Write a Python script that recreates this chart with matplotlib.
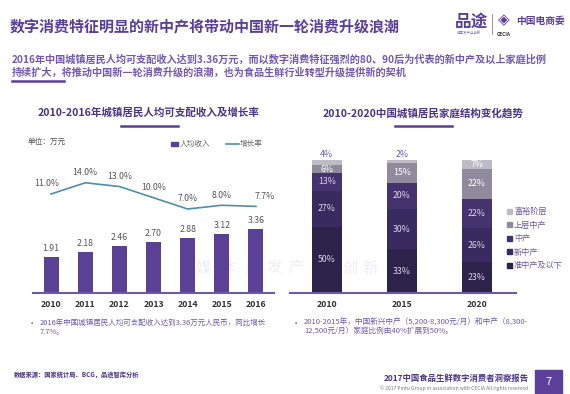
import numpy as np
import matplotlib
matplotlib.use('Agg')
import matplotlib.pyplot as plt
from matplotlib.patches import Patch, Rectangle
from matplotlib.lines import Line2D

plt.rcParams['font.family'] = ['Noto Sans CJK SC', 'DejaVu Sans']

# ---- dados ----
anos = ['2010', '2011', '2012', '2013', '2014', '2015', '2016']
renda = [1.91, 2.18, 2.46, 2.70, 2.88, 3.12, 3.36]
crescimento = [11.0, 14.0, 13.0, 10.0, 7.0, 8.0, 7.7]

anos_fam = ['2010', '2015', '2020']
camadas = ['准中产及以下', '新中产', '中产', '上层中产', '富裕阶层']
准中产 = [50, 33, 23]
新中产 = [27, 30, 26]
中产 = [13, 20, 22]
上层中产 = [6, 15, 22]
富裕 = [4, 2, 7]

W, H = 570, 394
roxo = '#5a3e98'
roxo_txt = '#6b5aa8'

fig = plt.figure(figsize=(W / 100, H / 100), dpi=100)
fig.patch.set_facecolor('white')


def px(x, y):
    return x / W, 1 - y / H


def texto(x, y, s, **kw):
    fx, fy = px(x, y)
    return fig.text(fx, fy, s, **kw)


def linha(x0, x1, y0, y1, cor, lw):
    fig.add_artist(Line2D([x0 / W, x1 / W], [1 - y0 / H, 1 - y1 / H], color=cor, lw=lw))


# marca d'agua (bem clara, atras de tudo)
for cx, ch in zip([203, 228, 252, 274, 296, 350, 370], '媒体源发产创新'):
    texto(cx, 268, ch, fontsize=11, color='#efedf6', va='center', ha='center', zorder=-5)

# cabecalho
texto(10, 27, '数字消费特征明显的新中产将带动中国新一轮消费升级浪潮', fontsize=10.8,
      fontweight='bold', color=roxo, va='center')
texto(12, 59.5, '2016年中国城镇居民人均可支配收入达到3.36万元，而以数字消费特征强烈的80、90后为代表的新中产及以上家庭比例',
      fontsize=7.3, fontweight='bold', color='#7457b0', va='center')
texto(12, 72.5, '持续扩大，将推动中国新一轮消费升级的浪潮，也为食品生鲜行业转型升级提供新的契机',
      fontsize=7.3, fontweight='bold', color='#7457b0', va='center')
linha(12, 64, 81, 81, roxo, 1.8)

# logos (aproximado)
texto(455, 22, '品途', fontsize=12, fontweight='bold', style='italic', color='#5b3f9c', va='center')
texto(457, 33, '媒体发产业创新', fontsize=2.5, color='#7a6aa8', va='center')
linha(491.5, 491.5, 14, 34, '#8a7ab8', 0.6)
texto(504, 20, '◈', fontsize=11, color='#5b3f9c', va='center', ha='center', family='DejaVu Sans')
texto(504, 34, 'CECIA', fontsize=3.5, fontweight='bold', color='#333333', va='center', ha='center')
texto(516, 21, '中国电商委', fontsize=7, fontweight='bold', color='#5b3f9c', va='center')

# titulos dos graficos
texto(149, 113, '2010-2016年城镇居民人均可支配收入及增长率', fontsize=7.6, fontweight='bold',
      color='#4a3585', ha='center', va='center')
linha(121, 178, 126, 126, roxo, 1.8)
texto(423, 113, '2010-2020中国城镇居民家庭结构变化趋势', fontsize=7.6, fontweight='bold',
      color='#4a3585', ha='center', va='center')
linha(395, 452, 126, 126, roxo, 1.8)

# ---- grafico esquerdo ----
ax = fig.add_axes([33 / W, (H - 293) / H, 241 / W, 133 / H])
x = np.arange(len(anos))
ax.bar(x, renda, width=0.44, color='#5b4196', zorder=2)
for xi, v in zip(x, renda):
    ax.text(xi, v + 0.2, f'{v:.2f}', ha='center', va='bottom', fontsize=6.3, color='#555555')
ax.set_xlim(-0.53, 6.53)
ax.set_ylim(0, 7.0)
ax.set_yticks([])
ax.set_xticks(x)
ax.set_xticklabels(anos, fontsize=6.3, fontweight='bold', color='#333333')
ax.tick_params(axis='x', length=0, pad=5)
for s in ['top', 'right', 'left']:
    ax.spines[s].set_visible(False)
ax.spines['bottom'].set_color('#6b5aa6')
ax.spines['bottom'].set_linewidth(1.5)
ax.patch.set_alpha(0)

ax2 = ax.twinx()
ax2.plot(x, crescimento, color='#4d8fa6', lw=1.2)
ax2.set_ylim(-15.4, 20.07)
ax2.axis('off')
for xi, v in zip(x, crescimento):
    dx = 6 if xi == len(x) - 1 else (-3 if xi == 0 else 0)
    ax2.annotate(f'{v:.1f}%', (xi, v), xytext=(dx, 4), textcoords='offset points',
                 ha='center', va='bottom', fontsize=6.3, color='#555555')

texto(28, 142, '单位：万元', fontsize=5.5, color='#555555', va='center')
fig.add_artist(Rectangle((171 / W, 1 - 146 / H), 7 / W, 4 / H, color='#5b4196'))
texto(180, 144, '人均收入', fontsize=5.5, color='#666666', va='center')
linha(226, 239, 144, 144, '#4d8fa6', 1.2)
texto(240, 144, '增长率', fontsize=5.5, color='#666666', va='center')

# ---- grafico direito ----
axr = fig.add_axes([290 / W, (H - 293) / H, 226 / W, 133 / H])
xr = np.arange(len(anos_fam))
series = [准中产, 新中产, 中产, 上层中产, 富裕]
cores = ['#2d2249', '#392a5f', '#45336f', '#8f8b9c', '#bdbbc6']
base = np.zeros(len(anos_fam))
for nome, vals, cor in zip(camadas, series, cores):
    axr.bar(xr, vals, bottom=base, width=0.4, color=cor, label=nome, zorder=2)
    for xi, b, v in zip(xr, base, vals):
        if v <= 4:
            axr.text(xi, b + v + 1.0, f'{v}%', ha='center', va='bottom', fontsize=6.3, color='#6b5aa8')
        else:
            tc = 'white' if cor in ('#8f8b9c', '#bdbbc6') else '#dcd6ec'
            axr.text(xi, b + v / 2, f'{v}%', ha='center', va='center', fontsize=6.3, color=tc)
    base = base + np.array(vals)
axr.set_xlim(-0.49, 2.52)
axr.set_ylim(0, 100)
axr.set_yticks([])
axr.set_xticks(xr)
axr.set_xticklabels(anos_fam, fontsize=6.3, fontweight='bold', color='#333333')
axr.tick_params(axis='x', length=0, pad=5)
for s in ['top', 'right', 'left']:
    axr.spines[s].set_visible(False)
axr.spines['bottom'].set_color('#6b5aa6')
axr.spines['bottom'].set_linewidth(1.5)
axr.patch.set_alpha(0)

handles = [Patch(color=c) for c in cores][::-1]
fig.legend(handles, camadas[::-1], loc='upper left', bbox_to_anchor=(503 / W, 1 - 203 / H),
           frameon=False, fontsize=5.9, handlelength=0.55, handleheight=0.55, handletextpad=0.3,
           labelspacing=0.55, borderpad=0, labelcolor='#6b5a9e')

# notas
texto(28, 323, '•', fontsize=6, color=roxo_txt, va='center')
texto(40, 323, '2016年中国城镇居民人均可支配收入达到3.36万元人民币，同比增长', fontsize=5.4, color=roxo_txt, va='center')
texto(40, 332, '7.7%。', fontsize=5.4, color=roxo_txt, va='center')
texto(292, 323, '·', fontsize=6, color=roxo_txt, va='center')
texto(304, 323, '2010-2015年，中国新兴中产（5,200-8,300元/月）和中产（8,300-', fontsize=5.5, color=roxo_txt, va='center')
texto(304, 332, '12,500元/月）家庭比例由40%扩展到50%。', fontsize=5.5, color=roxo_txt, va='center')

# rodape
texto(14, 375, '数据来源：国家统计局、BCG，品途智库分析', fontsize=4.5, fontweight='bold',
      style='italic', color='#4a3585', va='center')
texto(529, 378, '2017中国食品生鲜数字消费者洞察报告', fontsize=6, fontweight='bold',
      color='#4a3585', va='center', ha='right')
texto(529, 388, '© 2017 Pintu Group in association with CECIA All rights reserved.', fontsize=3.6,
      color='#777777', va='center', ha='right')
fig.add_artist(Rectangle((535 / W, 0), 27 / W, 24 / H, color='#5b3f99'))
texto(548.5, 382, '7', fontsize=8, color='white', va='center', ha='center')

fig.savefig('out.png', dpi=100)
